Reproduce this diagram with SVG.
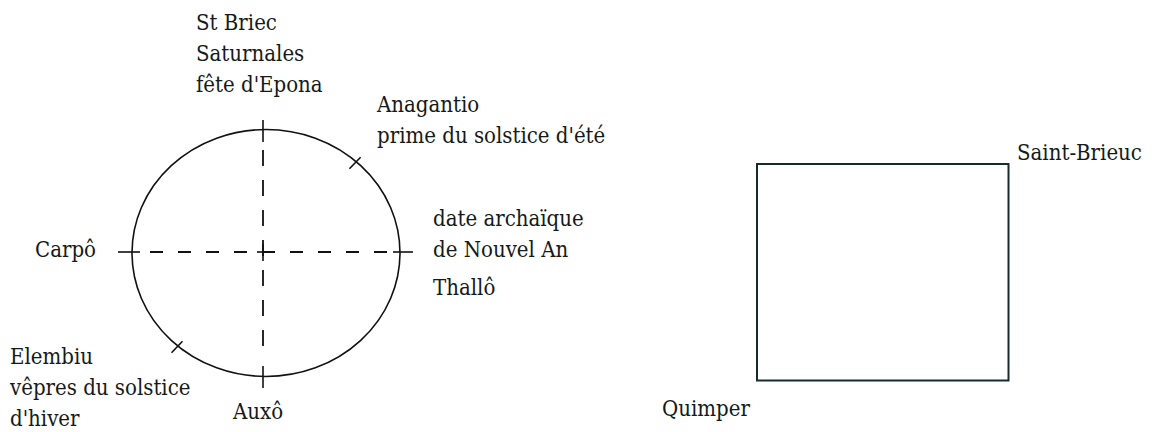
<svg xmlns="http://www.w3.org/2000/svg" width="1158" height="432" viewBox="0 0 1158 432">
<style>
text{font-family:'DejaVu Serif Condensed','DejaVu Serif',serif;font-stretch:condensed;font-size:22px;fill:#151a1a}
.s{stroke:#111;stroke-width:1.6;fill:none}
.d{stroke:#111;stroke-width:1.8;fill:none}
</style>
<rect width="1158" height="432" fill="#fff"/>
<g id="wheel">
<ellipse class="s" cx="266" cy="253" rx="134" ry="123.5"/>
</g>
<g id="connectors">
<line class="d" x1="150" y1="252" x2="390" y2="252" stroke-dasharray="13 15"/>
<line class="d" x1="263" y1="150" x2="263" y2="360" stroke-dasharray="16 14"/>
<line class="s" x1="263" y1="120" x2="263" y2="142"/>
<line class="s" x1="263" y1="366" x2="263" y2="388"/>
<line class="s" x1="118" y1="252" x2="140" y2="252"/>
<line class="s" x1="393" y1="252" x2="413" y2="252"/>
<line class="s" x1="257" y1="252" x2="270" y2="252"/>
<line class="s" x1="263" y1="244" x2="263" y2="261"/>
<line class="s" x1="349.4" y1="168.7" x2="360.6" y2="157.3"/>
<line class="s" x1="171.5" y1="352.8" x2="182.5" y2="341.2"/>
</g>
<g id="label-top">
<text x="196" y="30">St Briec</text>
<text x="196" y="61">Saturnales</text>
<text x="196" y="92">fête d'Epona</text>
</g>
<g id="label-ne">
<text x="377" y="112">Anagantio</text>
<text x="377" y="143">prime du solstice d'été</text>
</g>
<g id="label-right">
<text x="433" y="226">date archaïque</text>
<text x="433" y="257">de Nouvel An</text>
<text x="433" y="295">Thallô</text>
</g>
<g id="label-left">
<text x="35" y="257">Carpô</text>
</g>
<g id="label-sw">
<text x="10" y="364">Elembiu</text>
<text x="10" y="395">vêpres du solstice</text>
<text x="10" y="426">d'hiver</text>
</g>
<g id="label-bottom">
<text x="233" y="419">Auxô</text>
</g>
<g id="label-saint-brieuc">
<text x="1017" y="160">Saint-Brieuc</text>
</g>
<g id="label-quimper">
<text x="662" y="416">Quimper</text>
</g>
<g id="square">
<rect x="757" y="164" width="251.5" height="216.5" fill="none" stroke="#1a2a2a" stroke-width="2"/>
</g>
</svg>
